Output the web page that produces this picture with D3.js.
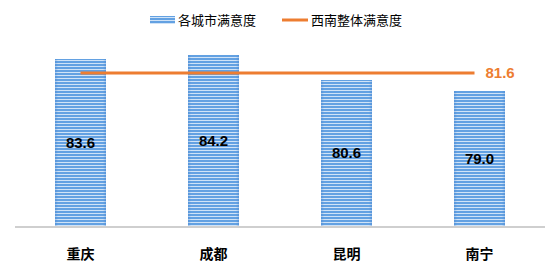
<!DOCTYPE html>
<html>
<head>
<meta charset="utf-8">
<script src="https://cdn.jsdelivr.net/npm/d3@7"></script>
<style>
  body { margin: 0; background: #fff; }
  svg { display: block; font-family: "Microsoft YaHei", "Noto Sans CJK SC", sans-serif; }
</style>
</head>
<body>
<svg id="chart" width="554" height="268"></svg>
<script>
const cities = ['重庆', '成都', '昆明', '南宁']
const scores = [83.6, 84.2, 80.6, 79.0]
const regionAvg = 81.6
const legendNames = ['各城市满意度', '西南整体满意度']

const width = 554, height = 268
const MARGIN = { top: 49, right: 9, bottom: 42, left: 15 }

const $svg = d3.select('#chart')

// striped fill like the excel pattern
const defs = $svg.append('defs')
const grad = defs.append('linearGradient').attr('id', 'edge')
grad.append('stop').attr('offset', '0%').attr('stop-color', '#3f7fcc').attr('stop-opacity', 0.35)
grad.append('stop').attr('offset', '6%').attr('stop-color', '#3f7fcc').attr('stop-opacity', 0)
grad.append('stop').attr('offset', '94%').attr('stop-color', '#3f7fcc').attr('stop-opacity', 0)
grad.append('stop').attr('offset', '100%').attr('stop-color', '#3f7fcc').attr('stop-opacity', 0.35)

const pat = defs.append('pattern')
  .attr('id', 'stripes')
  .attr('patternUnits', 'userSpaceOnUse')
  .attr('width', 6)
  .attr('height', 3)
pat.append('rect').attr('width', 6).attr('height', 3).attr('fill', '#d0e3f7')
pat.append('rect').attr('y', 1).attr('width', 6).attr('height', 2).attr('fill', '#63a1e2')

const x = d3.scaleBand()
  .domain(cities)
  .range([MARGIN.left, width - MARGIN.right])
  .paddingInner(0.62)
  .paddingOuter(0.3)
  .round(true)

const y = d3.scaleLinear()
  .domain([60, 85])
  .range([height - MARGIN.bottom, MARGIN.top])

const data = cities.map((c, i) => ({ city: c, value: scores[i] }))

// bars
const bars = $svg.append('g').selectAll('g.bar')
  .data(data)
  .enter()
  .append('g')
  .attr('class', 'bar')

bars.append('rect')
  .attr('x', d => x(d.city))
  .attr('y', d => Math.round(y(d.value)))
  .attr('width', x.bandwidth())
  .attr('height', d => y(60) - Math.round(y(d.value)))
  .attr('fill', 'url(#stripes)')
  .attr('shape-rendering', 'crispEdges')

bars.append('rect')
  .attr('x', d => x(d.city))
  .attr('y', d => Math.round(y(d.value)))
  .attr('width', x.bandwidth())
  .attr('height', d => y(60) - Math.round(y(d.value)))
  .attr('fill', 'url(#edge)')

bars.append('text')
  .attr('x', d => x(d.city) + x.bandwidth() / 2)
  .attr('y', d => (y(d.value) + y(60)) / 2)
  .attr('dy', '0.35em')
  .attr('text-anchor', 'middle')
  .attr('font-family', 'Arial, "Liberation Sans", sans-serif')
  .attr('font-weight', 'bold')
  .attr('font-size', 15)
  .attr('fill', '#000')
  .text(d => d.value.toFixed(1))

// axis line
$svg.append('line')
  .attr('x1', MARGIN.left)
  .attr('x2', width - MARGIN.right)
  .attr('y1', y(60) + 1)
  .attr('y2', y(60) + 1)
  .attr('stroke', '#bfbfbf')
  .attr('stroke-width', 1.5)

// category labels
$svg.append('g').selectAll('text')
  .data(cities)
  .enter()
  .append('text')
  .attr('x', d => x(d) + x.bandwidth() / 2)
  .attr('y', height - 14)
  .attr('dy', '0.35em')
  .attr('text-anchor', 'middle')
  .attr('font-weight', 'bold')
  .attr('font-size', 14)
  .attr('fill', '#000')
  .text(d => d)

// regional average line
const xFirst = x(cities[0]) + x.bandwidth() / 2
const xLast = x(cities[cities.length - 1]) + x.bandwidth() / 2 - 5
$svg.append('line')
  .attr('x1', xFirst)
  .attr('x2', xLast)
  .attr('y1', y(regionAvg))
  .attr('y2', y(regionAvg))
  .attr('stroke', '#ed7d31')
  .attr('stroke-width', 3)

$svg.append('text')
  .attr('x', xLast + 11)
  .attr('y', y(regionAvg))
  .attr('dy', '0.35em')
  .attr('font-family', 'Arial, "Liberation Sans", sans-serif')
  .attr('font-weight', 'bold')
  .attr('font-size', 15)
  .attr('fill', '#ed7d31')
  .text(regionAvg.toFixed(1))

// legend
const $legend = $svg.append('g').attr('transform', 'translate(150, 20)')
$legend.append('rect')
  .attr('x', 0).attr('y', -4).attr('width', 25).attr('height', 8)
  .attr('fill', 'url(#stripes)')
  .attr('shape-rendering', 'crispEdges')
$legend.append('text')
  .attr('x', 28).attr('y', 0).attr('dy', '0.35em')
  .attr('font-size', 13).attr('fill', '#000')
  .text(legendNames[0])
$legend.append('line')
  .attr('x1', 132).attr('x2', 158).attr('y1', 0).attr('y2', 0)
  .attr('stroke', '#ed7d31').attr('stroke-width', 3)
$legend.append('text')
  .attr('x', 161).attr('y', 0).attr('dy', '0.35em')
  .attr('font-size', 13).attr('fill', '#000')
  .text(legendNames[1])
</script>
</body>
</html>
